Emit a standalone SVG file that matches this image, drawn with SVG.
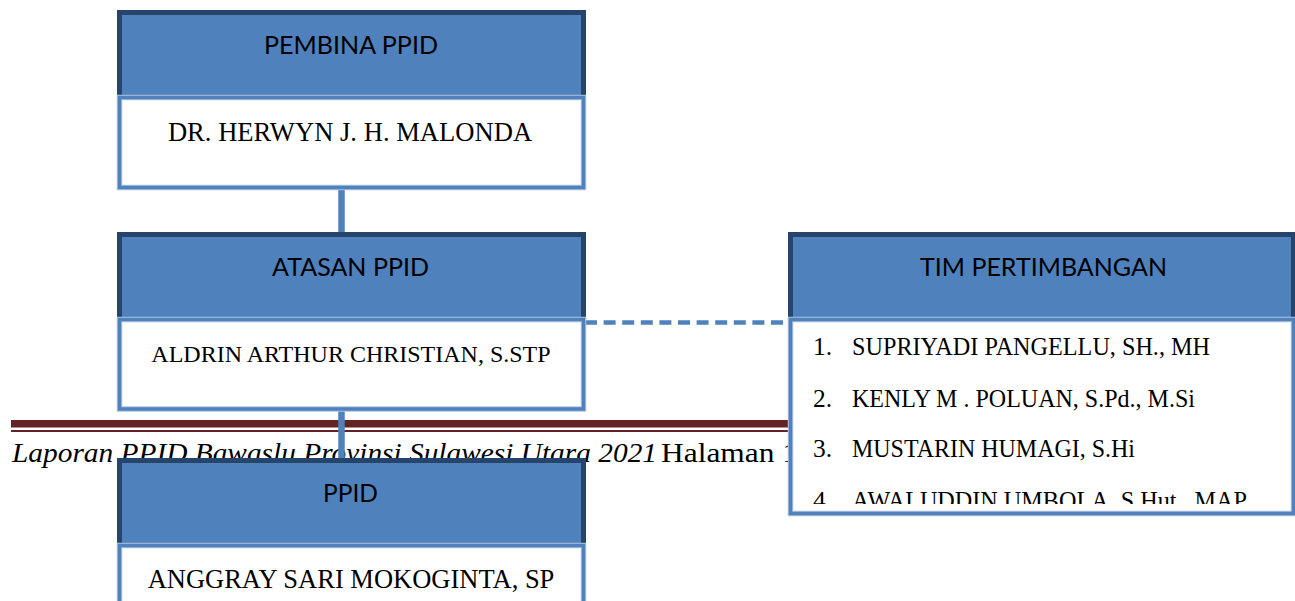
<svg xmlns="http://www.w3.org/2000/svg" width="1295" height="601" viewBox="0 0 1295 601">
<defs>
<style>
.hdr{fill:#4f81bd}
.dark{fill:none;stroke:#27456a;stroke-width:5}
.edge{fill:#fff;stroke:#aec4e2;stroke-width:5.5}
.body{fill:none;stroke:#4f81bd;stroke-width:3.5}
.htxt{font-family:Lato,"Liberation Sans",sans-serif;font-size:25px;fill:#000;text-anchor:middle}
.ntxt{font-family:"Liberation Serif",serif;fill:#000;text-anchor:middle}
.ltxt{font-family:"Liberation Serif",serif;font-size:25.5px;fill:#000}
.ftxt{font-family:"Liberation Serif",serif;font-size:27px;fill:#000}
.conn{stroke:#4f81bd;stroke-width:6.5;fill:none}
.dash{stroke:#4f81bd;stroke-width:4.5;stroke-dasharray:12 6.6;fill:none}
.rule{fill:#622423}
</style>
<clipPath id="tclip"><rect x="793" y="324" width="498" height="180"/></clipPath>
</defs>
<rect width="1295" height="601" fill="#fff"/>
<g id="footer">
<rect class="rule" x="11" y="420" width="780" height="7.5"/>
<rect class="rule" x="11" y="430" width="780" height="2"/>
<text class="ftxt" x="12" y="462" font-style="italic" textLength="645" lengthAdjust="spacingAndGlyphs">Laporan PPID Bawaslu Provinsi Sulawesi Utara 2021</text>
<text class="ftxt" x="661" y="462" textLength="137" lengthAdjust="spacingAndGlyphs">Halaman 1</text>
</g>
<g id="connectors">
<line class="conn" x1="341.5" y1="188" x2="341.5" y2="234"/>
<line class="conn" x1="341.5" y1="410" x2="341.5" y2="460"/>
<line class="dash" x1="585" y1="322.5" x2="790" y2="322.5"/>
</g>
<g id="pembina">
<rect class="hdr" x="117" y="10" width="469" height="90"/>
<path class="dark" d="M119.5,97 V12.5 H583.5 V97"/>
<rect class="edge" x="119.5" y="97.5" width="464" height="90"/>
<rect class="body" x="119.5" y="97.5" width="464" height="90"/>
<text class="htxt" x="351" y="54" textLength="174" lengthAdjust="spacingAndGlyphs">PEMBINA PPID</text>
<text class="ntxt" x="350" y="141" font-size="26.6">DR. HERWYN J. H. MALONDA</text>
</g>
<g id="atasan">
<rect class="hdr" x="117" y="232" width="469" height="90"/>
<path class="dark" d="M119.5,319 V234.5 H583.5 V319"/>
<rect class="edge" x="119.5" y="319.5" width="464" height="89.5"/>
<rect class="body" x="119.5" y="319.5" width="464" height="89.5"/>
<text class="htxt" x="350.5" y="276" textLength="157" lengthAdjust="spacingAndGlyphs">ATASAN PPID</text>
<text class="ntxt" x="351" y="362" font-size="24">ALDRIN ARTHUR CHRISTIAN, S.STP</text>
</g>
<g id="ppid">
<rect class="hdr" x="117" y="458" width="469" height="90"/>
<path class="dark" d="M119.5,545 V460.5 H583.5 V545"/>
<rect class="edge" x="119.5" y="545.5" width="464" height="100"/>
<rect class="body" x="119.5" y="545.5" width="464" height="100"/>
<text class="htxt" x="350.5" y="502" textLength="55" lengthAdjust="spacingAndGlyphs">PPID</text>
<text class="ntxt" x="351" y="588" font-size="26.5">ANGGRAY SARI MOKOGINTA, SP</text>
</g>
<g id="tim-pertimbangan">
<rect class="hdr" x="788" y="232" width="508" height="90"/>
<path class="dark" d="M790.5,319 V234.5 H1293.5 V319"/>
<rect class="edge" x="790.5" y="319.5" width="503" height="194"/>
<rect class="body" x="790.5" y="319.5" width="503" height="194"/>
<text class="htxt" x="1043.5" y="276" textLength="247" lengthAdjust="spacingAndGlyphs">TIM PERTIMBANGAN</text>
<g clip-path="url(#tclip)">
<text class="ltxt" x="813" y="355">1.</text>
<text class="ltxt" x="852" y="355" textLength="358" lengthAdjust="spacingAndGlyphs">SUPRIYADI PANGELLU, SH., MH</text>
<text class="ltxt" x="813" y="407">2.</text>
<text class="ltxt" x="852" y="407" textLength="343" lengthAdjust="spacingAndGlyphs">KENLY M . POLUAN, S.Pd., M.Si</text>
<text class="ltxt" x="813" y="457">3.</text>
<text class="ltxt" x="852" y="457" textLength="283" lengthAdjust="spacingAndGlyphs">MUSTARIN HUMAGI, S.Hi</text>
<text class="ltxt" x="813" y="509">4.</text>
<text class="ltxt" x="852" y="509" textLength="395" lengthAdjust="spacingAndGlyphs">AWALUDDIN UMBOLA, S.Hut., MAP</text>
</g>
</g>
</svg>
